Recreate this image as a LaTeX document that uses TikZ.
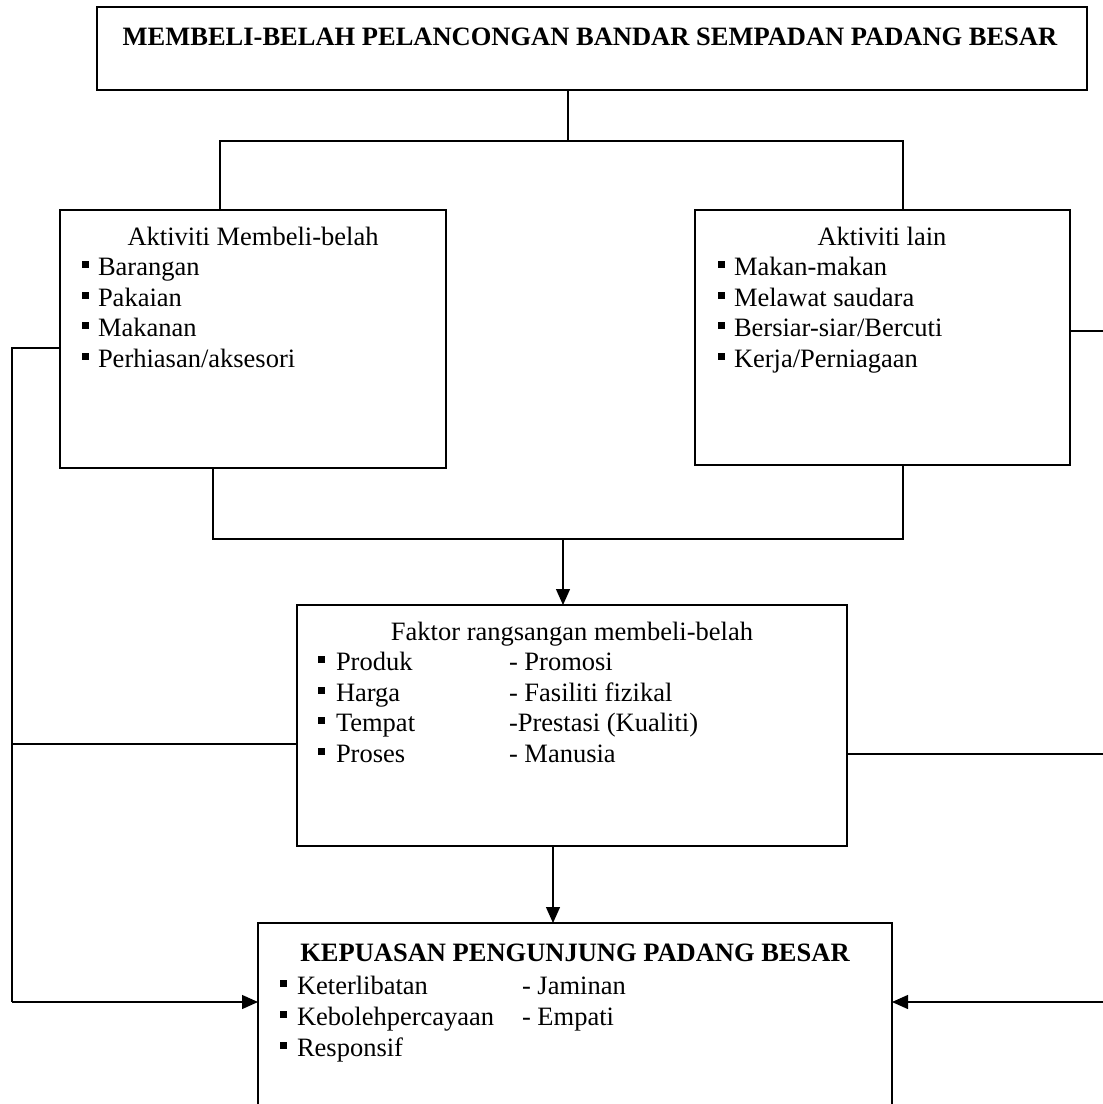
\documentclass[tikz,border=0pt]{standalone}
\usepackage{fontspec}
\setmainfont{Liberation Serif}
\usetikzlibrary{arrows.meta}
\newcommand\mybul[1][16pt]{\makebox[#1][l]{\rule[7.5pt]{7pt}{7pt}}}
\begin{document}
\begin{tikzpicture}[x=1pt,y=-1pt,
  box/.style={draw, line width=1.3pt, rectangle, inner sep=0pt, outer sep=0pt, anchor=north west},
  txt/.style={inner sep=0pt, outer sep=0pt, anchor=base west, font=\fontsize{26.5pt}{30pt}\selectfont},
  ttl/.style={txt, anchor=base},
  conn/.style={line width=1.3pt},
  arr/.style={conn, -{Triangle[length=16pt,width=14pt]}}]
\useasboundingbox (0,0) rectangle (1103,1104);
\clip (0,0) rectangle (1103,1104);
% boxes
\node[box, minimum width=990pt, minimum height=83pt] (top) at (97,7) {};
\node[box, minimum width=386pt, minimum height=258pt] (lft) at (60,210) {};
\node[box, minimum width=375pt, minimum height=255pt] (rgt) at (695,210) {};
\node[box, minimum width=550pt, minimum height=241pt] (mid) at (297,605) {};
\node[box, minimum width=634pt, minimum height=230pt] (bot) at (258,923) {};
% texts: top
\node[ttl, font=\fontsize{26.5pt}{30pt}\selectfont\bfseries] (t0) at (590,45) {MEMBELI-BELAH PELANCONGAN BANDAR SEMPADAN PADANG BESAR};
% left box
\node[ttl] (l0) at (253,245) {Aktiviti Membeli-belah};
\node[txt] (l1) at (82,275.5) {\mybul[16pt]Barangan};
\node[txt] (l2) at (82,306) {\mybul[16pt]Pakaian};
\node[txt] (l3) at (82,336.5) {\mybul[16pt]Makanan};
\node[txt] (l4) at (82,367) {\mybul[16pt]Perhiasan/aksesori};
% right box
\node[ttl] (r0) at (882,245) {Aktiviti lain};
\node[txt] (r1) at (718,275.5) {\mybul[16pt]Makan-makan};
\node[txt] (r2) at (718,306) {\mybul[16pt]Melawat saudara};
\node[txt] (r3) at (718,336.5) {\mybul[16pt]Bersiar-siar/Bercuti};
\node[txt] (r4) at (718,367) {\mybul[16pt]Kerja/Perniagaan};
% middle box
\node[ttl] (m0) at (572,640) {Faktor rangsangan membeli-belah};
\node[txt] (m1) at (318,670.5) {\mybul[18pt]Produk};
\node[txt] (m2) at (318,701) {\mybul[18pt]Harga};
\node[txt] (m3) at (318,731.5) {\mybul[18pt]Tempat};
\node[txt] (m4) at (318,762) {\mybul[18pt]Proses};
\node[txt] (n1) at (509,670.5) {- Promosi};
\node[txt] (n2) at (509,701) {- Fasiliti fizikal};
\node[txt] (n3) at (509,731.5) {-Prestasi (Kualiti)};
\node[txt] (n4) at (509,762) {- Manusia};
% bottom box
\node[ttl, font=\fontsize{26.5pt}{30pt}\selectfont\bfseries] (b0) at (575,961) {KEPUASAN PENGUNJUNG PADANG BESAR};
\node[txt] (b1) at (280,994) {\mybul[17pt]Keterlibatan};
\node[txt] (b2) at (280,1025) {\mybul[17pt]Kebolehpercayaan};
\node[txt] (b3) at (280,1056) {\mybul[17pt]Responsif};
\node[txt] (c1) at (522,994) {- Jaminan};
\node[txt] (c2) at (522,1025) {- Empati};
% connector coordinates
\coordinate (j1) at (568,141);
\coordinate (lx) at (220,0);
\coordinate (rx) at (903,0);
\coordinate (j2) at (563,539);
\coordinate (lbx) at (213,0);
\coordinate (rbx) at (903,0);
\coordinate (mx) at (553,0);
\coordinate (lc) at (12,348);
\coordinate (lcb) at (12,1002);
\coordinate (ml) at (12,744);
\coordinate (rc) at (1103,331);
\coordinate (mr) at (1103,754);
\coordinate (rb) at (1103,1002);
% connectors
\draw[conn] (top.south -| j1) -- (j1);
\draw[conn] (lft.north -| lx) |- (j1) -| (rgt.north -| rx);
\draw[conn] (lft.south -| lbx) |- (j2) -| (rgt.south -| rbx);
\draw[arr] (j2) -- (mid.north -| j2);
\draw[arr] (mid.south -| mx) -- (bot.north -| mx);
\draw[conn] (lft.west |- lc) -- (lc) -- (lcb);
\draw[arr] (lcb) -- (bot.west |- lcb);
\draw[conn] (ml) -- (mid.west |- ml);
\draw[conn] (rgt.east |- rc) -- (rc);
\draw[conn] (mid.east |- mr) -- (mr);
\draw[arr] (rb) -- (bot.east |- rb);
\end{tikzpicture}
\end{document}
